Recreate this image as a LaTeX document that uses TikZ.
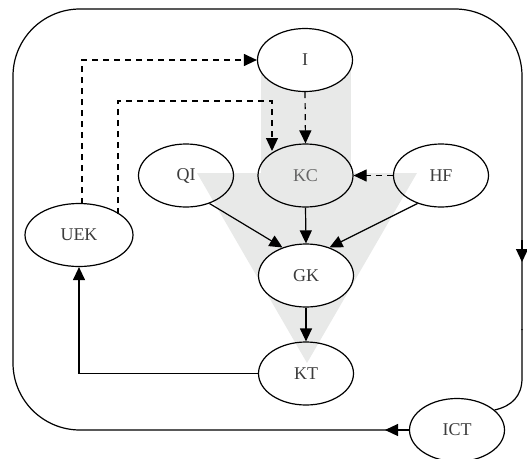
\documentclass[tikz,border=0pt]{standalone}
\usepackage{fontspec}
\setmainfont{Liberation Serif}
\usetikzlibrary{shapes.geometric,arrows.meta}
\definecolor{bgshade}{RGB}{232,233,232}
\definecolor{txt}{RGB}{60,60,60}
\begin{document}
\begin{tikzpicture}[x=1pt,y=-1pt,
  ell/.style={ellipse,draw,line width=1.2pt,minimum width=95pt,minimum height=63pt,inner sep=0pt,
    font=\fontsize{18}{18}\selectfont,text=txt},
  arr/.style={line width=1.2pt,-{Triangle[length=13pt,width=12pt]}},
  darr/.style={arr,dash pattern=on 6pt off 5pt},
  line/.style={line width=1.2pt}]
\useasboundingbox (0,0) rectangle (527,458);
% shaded background
\fill[bgshade] (261,60) rectangle (351,174);
\fill[bgshade] (197,173) -- (417,173) -- (307,363) -- cycle;
% nodes
\node[ell,fill=white] (I) at (305,60) {I};
\node[ell] (KC) at (305.5,175.5) {\textcolor{black!60}{KC}};
\node[ell] (QI) at (186,175.5) {QI};
\node[ell] (HF) at (441,175.5) {HF};
\node[ell,minimum width=108pt] (UEK) at (79,235) {UEK};
\node[ell,fill=white] (GK) at (306,275.5) {GK};
\node[ell] (KT) at (306,373.5) {KT};
\node[ell] (ICT) at (457,430) {ICT};
% edges
\draw[darr] (82,204) -- (82,60) -- (I.west);
\draw[darr] (118,214) -- (118,101) -- (272,101) -- (272,151);
\draw[darr] (I.south) -- (KC.north);
\draw[darr] (HF.west) -- (KC.east);
\draw[arr] (QI.-50) -- (GK.130);
\draw[arr] (KC.south) -- (GK.north);
\draw[arr] (HF.-130) -- (GK.50);
\draw[arr] (GK.south) -- (KT.north);
\draw[arr] (KT.west) -| (UEK.south);
% outer loop
\draw[line,rounded corners=67pt] (ICT.west) -- (13,430) -- (13,9) -- (522,9) -- (522,330);
\draw[line] (522,329) -- (522,378) .. controls (522,396) and (512,406) .. (ICT.28);
\draw[arr] (ICT.west) -- (385,430);
\draw[arr] (522,240) -- (522,262);
\end{tikzpicture}
\end{document}
